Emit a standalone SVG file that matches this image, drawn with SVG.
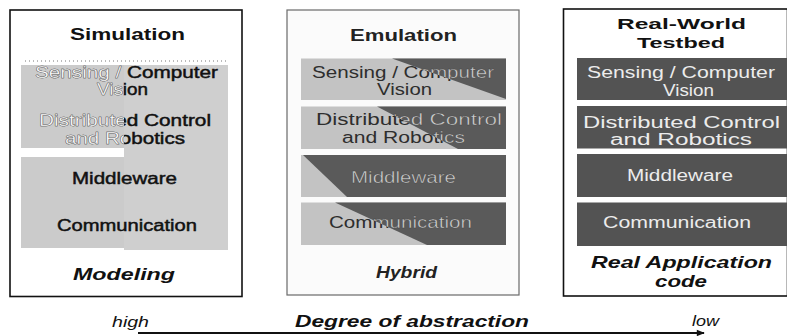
<svg xmlns="http://www.w3.org/2000/svg" width="787" height="336" viewBox="0 0 787 336">
<style>
text{font-family:"Liberation Sans",Arial,sans-serif;}
.t{font-size:16px;}
.h{font-size:17px;font-weight:bold;}
.h2{font-size:15.5px;font-weight:bold;}
.bi{font-size:17px;font-weight:bold;font-style:italic;}
.it{font-size:15px;font-style:italic;}
.blk{fill:#111;stroke:#111;stroke-width:0.45;}
.wht{fill:#fff;stroke:#9a9a9a;stroke-width:0.35;}
.mdk{fill:#2e2e2e;}
.mlt{fill:#cdcdcd;stroke:#444;stroke-width:0.3;}
.rlt{fill:#ececec;}
.lg{fill:#c3c3c3;}
.dk{fill:#5a5a5a;}
.rd{fill:#535353;}
</style>
<defs>
<clipPath id="cL"><rect x="21" y="65" width="103" height="83"/></clipPath>
<clipPath id="c1"><polygon points="392,58.5 506,58.5 506,99"/></clipPath>
<clipPath id="c2"><polygon points="377,106.5 506,106.5 506,149 458,149"/></clipPath>
<clipPath id="c3"><polygon points="303,155 506,155 506,197 347,197"/></clipPath>
<clipPath id="c4"><polygon points="335,202.5 506,202.5 506,245 427,245"/></clipPath>
<marker id="ah" viewBox="0 0 10 10" refX="9" refY="5" markerWidth="5" markerHeight="4" orient="auto" markerUnits="strokeWidth"><polygon points="0,1 10,5 0,9" fill="#111"/></marker>
</defs>
<rect width="787" height="336" fill="#fff"/>

<!-- Simulation -->
<g id="simulation">
<rect x="10" y="10" width="232" height="286.5" fill="#fff" stroke="#111" stroke-width="1.6"/>
<text class="h" x="70" y="40" textLength="115" lengthAdjust="spacingAndGlyphs" fill="#111">Simulation</text>
<line x1="25" y1="61" x2="227" y2="61" stroke="#777" stroke-width="1" stroke-dasharray="1 3"/>
<rect x="21" y="65" width="103" height="83" fill="#cbcbcb"/>
<rect x="21" y="157" width="103" height="91" fill="#cbcbcb"/>
<rect x="124" y="65" width="104" height="185" fill="#cfcfcf"/>
<g id="sim-sensing">
<text class="t blk" x="35" y="78" textLength="183" lengthAdjust="spacingAndGlyphs">Sensing / Computer</text>
<text class="t blk" x="97" y="95" textLength="51" lengthAdjust="spacingAndGlyphs">Vision</text>
<g clip-path="url(#cL)">
<text class="t wht" x="35" y="78" textLength="183" lengthAdjust="spacingAndGlyphs">Sensing / Computer</text>
<text class="t wht" x="97" y="95" textLength="51" lengthAdjust="spacingAndGlyphs">Vision</text>
</g>
</g>
<g id="sim-control">
<text class="t blk" x="39" y="126" textLength="172" lengthAdjust="spacingAndGlyphs">Distributed Control</text>
<text class="t blk" x="65" y="143.5" textLength="120" lengthAdjust="spacingAndGlyphs">and Robotics</text>
<g clip-path="url(#cL)">
<text class="t wht" x="39" y="126" textLength="172" lengthAdjust="spacingAndGlyphs">Distributed Control</text>
<text class="t wht" x="65" y="143.5" textLength="120" lengthAdjust="spacingAndGlyphs">and Robotics</text>
</g>
</g>
<g id="sim-middleware"><text class="t blk" x="72" y="183.5" textLength="105" lengthAdjust="spacingAndGlyphs">Middleware</text></g>
<g id="sim-communication"><text class="t blk" x="57" y="231" textLength="140" lengthAdjust="spacingAndGlyphs">Communication</text></g>
<text class="bi" x="73" y="280" textLength="102" lengthAdjust="spacingAndGlyphs" fill="#111">Modeling</text>
</g>

<!-- Emulation -->
<g id="emulation">
<rect x="287" y="10" width="232" height="285" fill="#fbfbfb" stroke="#6a6a6a" stroke-width="1.2"/>
<text class="h" x="350" y="41" textLength="107" lengthAdjust="spacingAndGlyphs" fill="#222">Emulation</text>
<g id="emu-sensing">
<rect class="lg" x="301" y="58.5" width="205" height="41.5"/>
<polygon class="dk" points="392,58.5 506,58.5 506,99"/>
<text class="t mdk" x="312" y="77.5" textLength="182" lengthAdjust="spacingAndGlyphs">Sensing / Computer</text>
<text class="t mdk" x="377" y="94.5" textLength="55" lengthAdjust="spacingAndGlyphs">Vision</text>
<g clip-path="url(#c1)"><text class="t mlt" x="312" y="77.5" textLength="182" lengthAdjust="spacingAndGlyphs">Sensing / Computer</text></g>
</g>
<g id="emu-control">
<rect class="lg" x="301" y="106.5" width="205" height="42.5"/>
<polygon class="dk" points="377,106.5 506,106.5 506,149 458,149"/>
<text class="t mdk" x="316" y="125" textLength="186" lengthAdjust="spacingAndGlyphs">Distributed Control</text>
<text class="t mdk" x="342" y="142.5" textLength="123" lengthAdjust="spacingAndGlyphs">and Robotics</text>
<g clip-path="url(#c2)">
<text class="t mlt" x="316" y="125" textLength="186" lengthAdjust="spacingAndGlyphs">Distributed Control</text>
<text class="t mlt" x="342" y="142.5" textLength="123" lengthAdjust="spacingAndGlyphs">and Robotics</text>
</g>
</g>
<g id="emu-middleware">
<rect class="lg" x="301" y="155" width="205" height="42"/>
<polygon class="dk" points="303,155 506,155 506,197 347,197"/>
<text class="t mdk" x="351" y="182.5" textLength="105" lengthAdjust="spacingAndGlyphs">Middleware</text>
<g clip-path="url(#c3)"><text class="t mlt" x="351" y="182.5" textLength="105" lengthAdjust="spacingAndGlyphs">Middleware</text></g>
</g>
<g id="emu-communication">
<rect class="lg" x="301" y="202.5" width="205" height="42.5"/>
<polygon class="dk" points="335,202.5 506,202.5 506,245 427,245"/>
<text class="t mdk" x="329" y="228" textLength="143" lengthAdjust="spacingAndGlyphs">Communication</text>
<g clip-path="url(#c4)"><text class="t mlt" x="329" y="228" textLength="143" lengthAdjust="spacingAndGlyphs">Communication</text></g>
</g>
<text class="bi" x="376" y="278" textLength="61" lengthAdjust="spacingAndGlyphs" fill="#222">Hybrid</text>
</g>

<!-- Real-World Testbed -->
<g id="testbed">
<rect x="563.5" y="9" width="224" height="287" fill="#fff" stroke="#111" stroke-width="1.6"/>
<text class="h2" x="617" y="29" textLength="129" lengthAdjust="spacingAndGlyphs" fill="#111">Real-World</text>
<text class="h2" x="637" y="47.5" textLength="88" lengthAdjust="spacingAndGlyphs" fill="#111">Testbed</text>
<g id="rw-sensing">
<rect class="rd" x="577" y="58" width="210" height="42"/>
<text class="t rlt" x="587" y="78" textLength="188" lengthAdjust="spacingAndGlyphs">Sensing / Computer</text>
<text class="t rlt" x="663" y="96" textLength="51" lengthAdjust="spacingAndGlyphs">Vision</text>
</g>
<g id="rw-control">
<rect class="rd" x="577" y="106" width="210" height="42.5"/>
<text class="t rlt" x="583" y="127.5" textLength="197" lengthAdjust="spacingAndGlyphs">Distributed Control</text>
<text class="t rlt" x="610" y="145" textLength="142" lengthAdjust="spacingAndGlyphs">and Robotics</text>
</g>
<g id="rw-middleware">
<rect class="rd" x="577" y="154" width="210" height="43"/>
<text class="t rlt" x="627" y="181" textLength="106" lengthAdjust="spacingAndGlyphs">Middleware</text>
</g>
<g id="rw-communication">
<rect class="rd" x="577" y="202.5" width="210" height="43.5"/>
<text class="t rlt" x="603" y="228" textLength="148" lengthAdjust="spacingAndGlyphs">Communication</text>
</g>
<text class="bi" x="591" y="268" textLength="181" lengthAdjust="spacingAndGlyphs" fill="#111">Real Application</text>
<text class="bi" x="655" y="287" textLength="52" lengthAdjust="spacingAndGlyphs" fill="#111">code</text>
</g>

<!-- Axis -->
<g id="connectors">
<line x1="138" y1="333" x2="704" y2="333" stroke="#111" stroke-width="2" marker-end="url(#ah)"/>
</g>
<g id="axis-labels">
<text class="it" x="112" y="327" textLength="37" lengthAdjust="spacingAndGlyphs" fill="#111">high</text>
<text class="bi" x="295" y="327" textLength="234" lengthAdjust="spacingAndGlyphs" fill="#111">Degree of abstraction</text>
<text class="it" x="692" y="326" textLength="27" lengthAdjust="spacingAndGlyphs" fill="#111">low</text>
</g>
</svg>
